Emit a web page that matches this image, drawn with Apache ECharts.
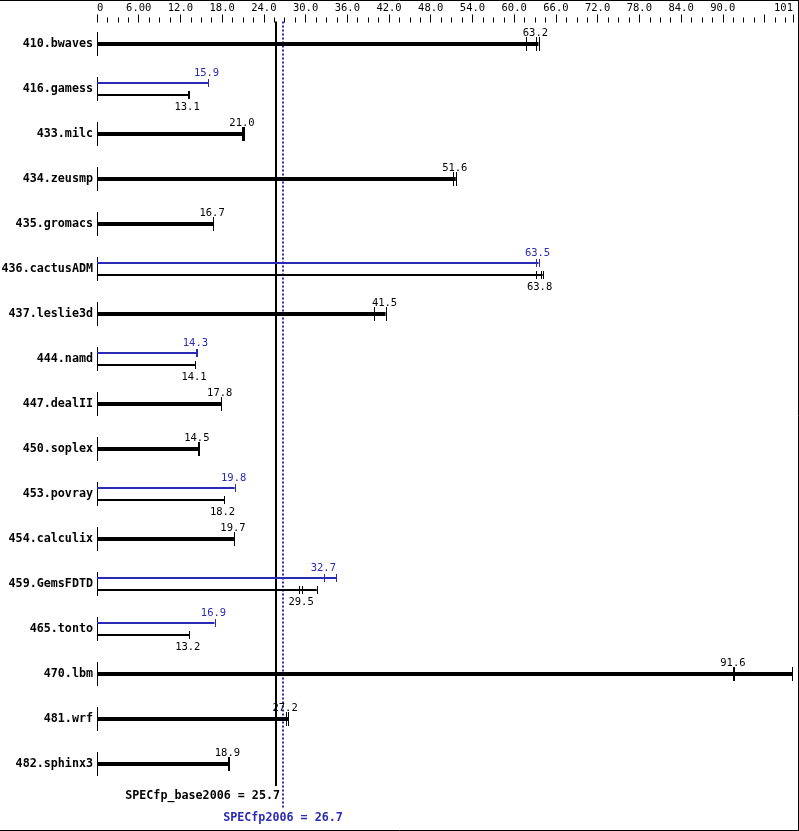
<!DOCTYPE html>
<html><head><meta charset="utf-8">
<script src="https://cdn.jsdelivr.net/npm/echarts@6/dist/echarts.min.js"></script>
<style>html,body{margin:0;padding:0;background:#fff}#c{width:799px;height:831px}</style>
</head><body><div id="c"></div><script>
const categories = ['410.bwaves','416.gamess','433.milc','434.zeusmp','435.gromacs','436.cactusADM','437.leslie3d','444.namd','447.dealII','450.soplex','453.povray','454.calculix','459.GemsFDTD','465.tonto','470.lbm','481.wrf','482.sphinx3'];
const baseMedian = [63.2, 13.1, 21.0, 51.6, 16.7, 63.8, 41.5, 14.1, 17.8, 14.5, 18.2, 19.7, 29.5, 13.2, 91.6, 27.2, 18.9];
const peakMedian = [null, 15.9, null, null, null, 63.5, null, 14.3, null, null, 19.8, null, 32.7, 16.9, null, null, null];
const baseRuns = [
  [61.7, 63.2, 63.5], [13.1, 13.1, 13.2], [20.9, 21.0, 21.1], [51.2, 51.6, 51.6],
  [16.7, 16.7, 16.7], [63.2, 63.8, 64.1], [39.9, 41.5, 41.5], [14.1, 14.1, 14.1],
  [17.8, 17.8, 17.9], [14.5, 14.5, 14.6], [18.2, 18.2, 18.3], [19.7, 19.7, 19.7],
  [29.1, 29.5, 31.6], [13.2, 13.2, 13.3], [91.5, 91.6, 100.0], [27.2, 27.2, 27.5],
  [18.8, 18.9, 19.0]
];
const peakRuns = [
  null, [15.9, 15.9, 16.0], null, null, null, [63.2, 63.5, 63.5], null, [14.3, 14.3, 14.4],
  null, null, [19.8, 19.8, 19.8], null, [32.6, 32.7, 34.4], [16.9, 16.9, 16.9], null, null, null
];
const baseScore = 25.7;
const peakScore = 26.7;
const axisMin = 0, axisMax = 100.1, axisInterval = 6;
const axisEndLabel = '101';
const baseScoreLabel = 'SPECfp_base2006 = 25.7';
const peakScoreLabel = 'SPECfp2006 = 26.7';

const BLUE = '#2a2ab4';
const MONO = '"DejaVu Sans Mono", "Liberation Mono", monospace';

function renderRow(params, api) {
  const i = api.value(1);
  const c = api.coord([0, i]);
  const x0 = Math.round(c[0]) + 0.5;
  const yc = Math.round(c[1]);
  const children = [];
  children.push({type: 'line', shape: {x1: x0, y1: yc - 12, x2: x0, y2: yc + 12}, style: {stroke: '#000', lineWidth: 1}});
  function drawBar(runs, median, y, thick, color, labelAbove) {
    const maxV = Math.max.apply(null, runs);
    const xe = api.coord([maxV, i])[0];
    children.push({type: 'line', shape: {x1: x0 - 0.5, y1: y, x2: xe, y2: y}, style: {stroke: color, lineWidth: thick ? 4 : 2}});
    const h = thick ? 7 : 4;
    runs.forEach(function (r) {
      const xr = Math.round(api.coord([r, i])[0]) + 0.5;
      children.push({type: 'line', shape: {x1: xr, y1: y - h, x2: xr, y2: y + h}, style: {stroke: color, lineWidth: 1}});
    });
    const xm = api.coord([median, i])[0];
    children.push({type: 'text', x: xm - 1, y: labelAbove ? y - (thick ? 11 : 10) : y + 12,
      style: {text: median.toFixed(1), fill: color, font: '10.5px ' + MONO, align: 'center', verticalAlign: 'middle'}});
  }
  if (peakMedian[i] != null) {
    drawBar(peakRuns[i], peakMedian[i], yc - 6, false, BLUE, true);
    drawBar(baseRuns[i], baseMedian[i], yc + 6, false, '#000', false);
  } else {
    drawBar(baseRuns[i], baseMedian[i], yc, true, '#000', true);
  }
  return {type: 'group', children: children};
}

function renderScores(params, api) {
  const top = params.coordSys.y;
  const xb = Math.round(api.coord([baseScore, 0])[0]);
  const xp = Math.round(api.coord([peakScore, 0])[0]);
  return {type: 'group', children: [
    {type: 'line', shape: {x1: xb, y1: top, x2: xb, y2: 786}, style: {stroke: '#000', lineWidth: 2}},
    {type: 'line', shape: {x1: xp, y1: top, x2: xp, y2: 808}, style: {stroke: BLUE, lineWidth: 2, lineDash: [2, 2]}},
    {type: 'text', x: xb + 4, y: 796, style: {text: baseScoreLabel, fill: '#000', font: 'bold 11.7px ' + MONO, align: 'right', verticalAlign: 'middle'}},
    {type: 'text', x: xp, y: 818, style: {text: peakScoreLabel, fill: BLUE, font: 'bold 11.7px ' + MONO, align: 'center', verticalAlign: 'middle'}}
  ]};
}

const chart = echarts.init(document.getElementById('c'), null, {renderer: 'canvas'});
chart.setOption({
  animation: false,
  backgroundColor: '#fff',
  grid: {left: 97, width: 696, top: 21.5, height: 764.6, containLabel: false, outerBoundsMode: 'none'},
  xAxis: {
    type: 'value', position: 'top', min: axisMin, max: axisMax, interval: axisInterval, offset: -1,
    axisLine: {show: false},
    splitLine: {show: false},
    axisTick: {show: true, length: 8, lineStyle: {color: '#000', width: 1}},
    minorTick: {show: true, splitNumber: 4, length: 5, lineStyle: {color: '#000', width: 1}},
    axisLabel: {
      margin: 9, color: '#000', fontFamily: MONO, fontSize: 10.5,
      alignMinLabel: 'left', alignMaxLabel: 'right', showMaxLabel: true, showMinLabel: true, hideOverlap: false,
      formatter: function (v) {
        if (v === 0) return '0';
        if (v === 6) return '6.00';
        if (v >= axisMax - 0.01) return axisEndLabel;
        if (v === 96) return '';
        return v.toFixed(1);
      }
    }
  },
  yAxis: {
    type: 'category', inverse: true, data: categories,
    axisLine: {show: false}, axisTick: {show: false}, splitLine: {show: false},
    axisLabel: {margin: 4, color: '#000', fontFamily: MONO, fontSize: 11.7, fontWeight: 'bold'}
  },
  series: [
    {type: 'custom', z: 1, clip: false, renderItem: renderScores, data: [[0, 0]], silent: true},
    {type: 'custom', z: 2, clip: false, renderItem: renderRow, data: categories.map(function (_, i) { return [0, i]; }), silent: true}
  ],
  graphic: [
    {type: 'line', shape: {x1: 0, y1: 0.5, x2: 799, y2: 0.5}, style: {stroke: '#000', lineWidth: 1}},
    {type: 'line', shape: {x1: 798.5, y1: 0, x2: 798.5, y2: 831}, style: {stroke: '#000', lineWidth: 1}},
    {type: 'line', shape: {x1: 0, y1: 830.5, x2: 799, y2: 830.5}, style: {stroke: '#000', lineWidth: 1}}
  ]
});
</script></body></html>
